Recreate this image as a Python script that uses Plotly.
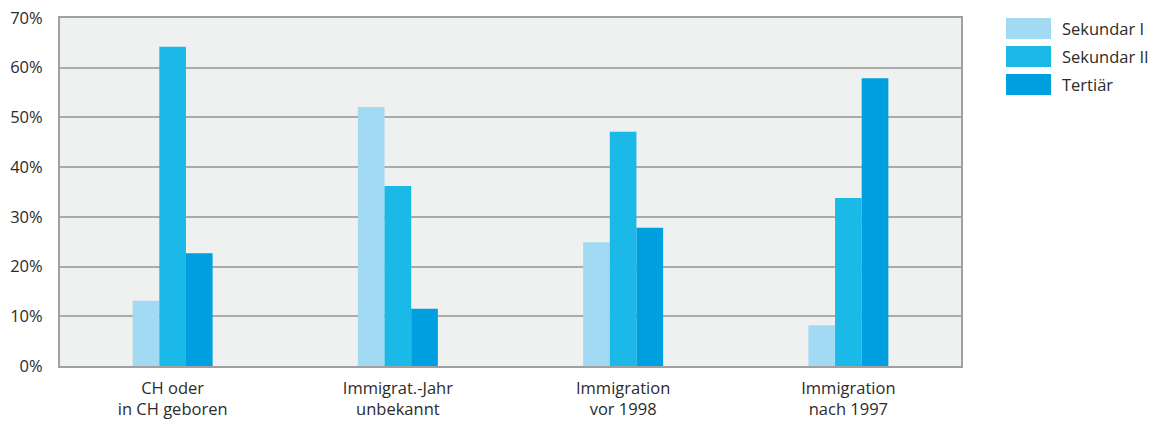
import plotly.graph_objects as go

# Bildungsniveau nach Migrationsstatus
categories = ["CH oder<br>in CH geboren", "Immigrat.-Jahr<br>unbekannt",
              "Immigration<br>vor 1998", "Immigration<br>nach 1997"]
sekundar_1 = [13.1, 52.1, 24.9, 8.2]
sekundar_2 = [64.2, 36.2, 47.1, 33.8]
tertiaer = [22.7, 11.5, 27.8, 57.9]
series_names = ["Sekundar I", "Sekundar II", "Tertiär"]
colors = ["#a3daf3", "#1ab9e8", "#009fdf"]
y_ticks = [0, 10, 20, 30, 40, 50, 60, 70]

FONT = "Open Sans"
fig = go.Figure()
for name, vals, col in zip(series_names, [sekundar_1, sekundar_2, tertiaer], colors):
    fig.add_trace(go.Bar(x=categories, y=vals, name=name, marker_color=col,
                         marker_line_width=0, showlegend=False))

# custom legend: swatches plus labels
for i, (name, col) in enumerate(zip(series_names, colors)):
    y0 = 423 - 18 - 28 * i
    fig.add_shape(type="rect", xref="paper", yref="paper",
                  x0=(1006 - 60) / 901, x1=(1051 - 60) / 901,
                  y0=(y0 - 21 - 57) / 348, y1=(y0 - 57) / 348,
                  fillcolor=col, line_width=0)
    fig.add_annotation(xref="paper", yref="paper", x=(1060 - 60) / 901,
                       y=(y0 - 10.5 - 57) / 348, text=name, showarrow=False,
                       xanchor="left", yanchor="middle",
                       font=dict(family=FONT, size=16.5, color="#2b2b2b"))

fig.update_layout(
    width=1153, height=423,
    margin=dict(l=60, r=192, t=18, b=57, autoexpand=False),
    paper_bgcolor="white", plot_bgcolor="#eff0f0",
    barmode="group", bargap=0.645, bargroupgap=0,
    font=dict(family=FONT, size=16.5, color="#2b2b2b"),
)
fig.update_xaxes(showgrid=False, ticks="", showline=True, linecolor="#a0a0a0",
                 linewidth=2, mirror=True, tickfont=dict(size=16.5),
                 ticklabelstandoff=6, automargin=False)
fig.update_yaxes(range=[0, 70], tickvals=y_ticks,
                 ticktext=[f"{v}%" for v in y_ticks],
                 showgrid=True, gridcolor="#ababab", gridwidth=2,
                 showline=True, linecolor="#a0a0a0", linewidth=2, mirror=True,
                 zeroline=False, ticks="", tickfont=dict(size=16.5),
                 ticklabelstandoff=12, automargin=False)

fig.write_html("out.html")
